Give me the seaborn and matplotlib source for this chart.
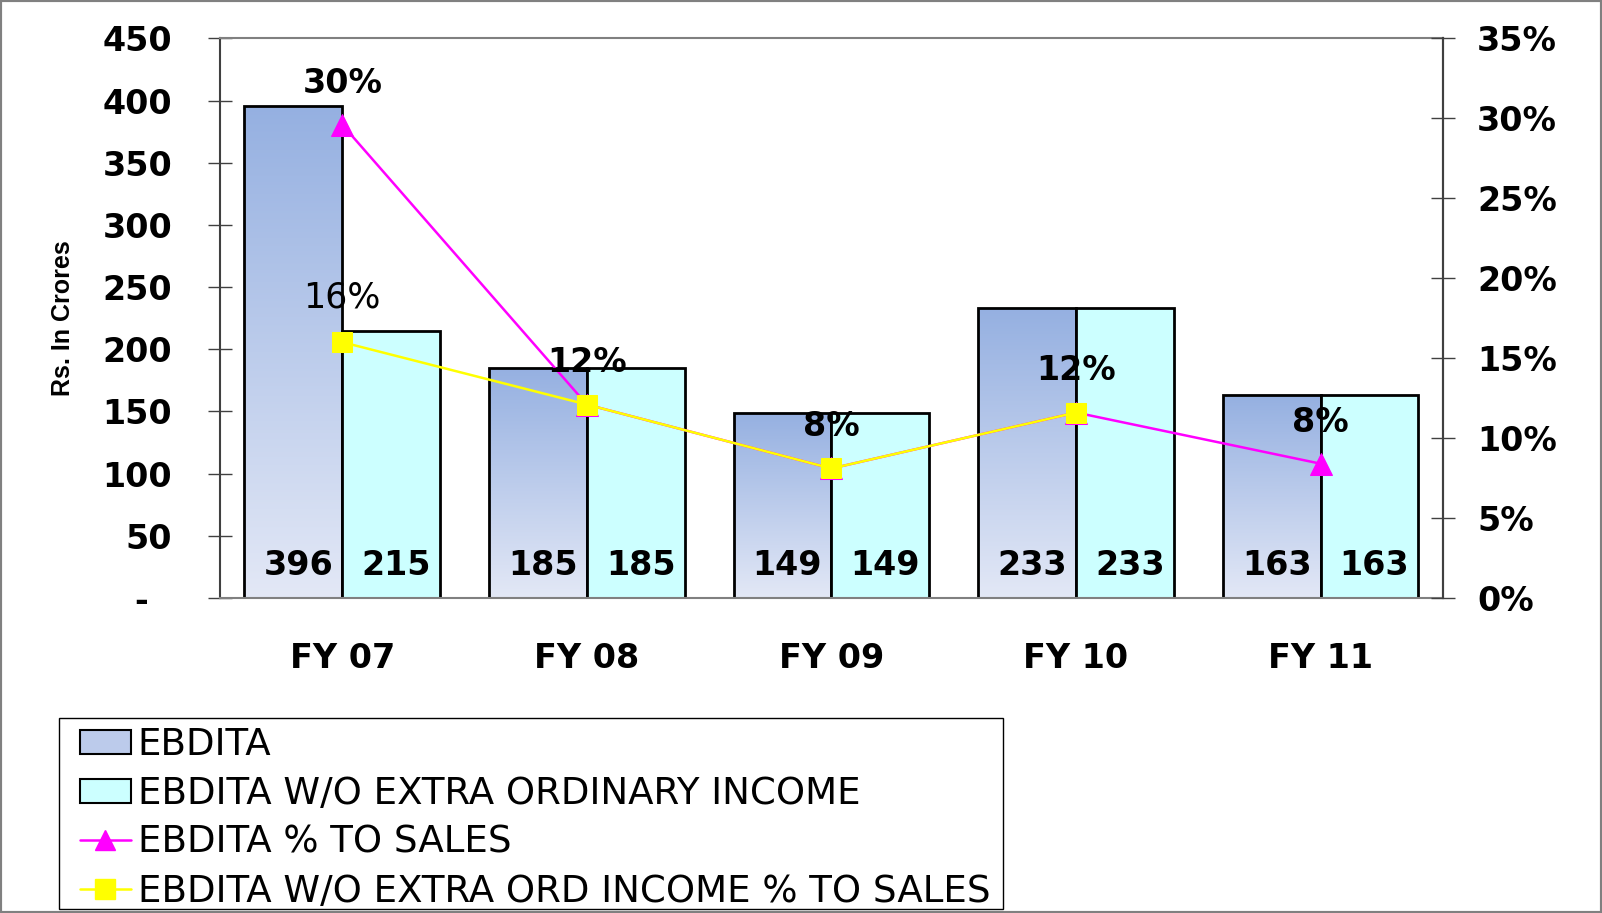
import numpy as np
import pandas as pd
import matplotlib
matplotlib.use("Agg")
import matplotlib.pyplot as plt
import seaborn as sns
from matplotlib.colors import LinearSegmentedColormap
from matplotlib.patches import Patch, Rectangle
from matplotlib.lines import Line2D
from matplotlib.ticker import FuncFormatter, MultipleLocator

# data
years = ["FY 07", "FY 08", "FY 09", "FY 10", "FY 11"]
ebdita = [396, 185, 149, 233, 163]
ebdita_wo = [215, 185, 149, 233, 163]
pct_sales = [29.6, 12.1, 8.1, 11.6, 8.4]
pct_sales_wo = [16.0, 12.1, 8.1, 11.6, np.nan]
pct_labels = ["30%", "12%", "8%", "12%", "8%"]
wo_first_label = "16%"

names = ["EBDITA", "EBDITA W/O EXTRA ORDINARY INCOME",
         "EBDITA % TO SALES", "EBDITA W/O EXTRA ORD INCOME % TO SALES"]

df = pd.DataFrame({
    "year": years * 2,
    "value": ebdita + ebdita_wo,
    "series": [names[0]] * len(years) + [names[1]] * len(years),
})

sns.set_style("white")
plt.rcParams["font.family"] = ["DejaVu Sans"]
plt.rcParams["text.color"] = "black"
plt.rcParams["axes.labelcolor"] = "black"
plt.rcParams["xtick.labelcolor"] = "black"
plt.rcParams["ytick.labelcolor"] = "black"

grad_top = "#95B0E1"
grad_bot = "#E3E8F6"
cyan = "#CCFFFF"
magenta = "#FF00FF"
yellow = "#FFFF00"
dark = "#404040"

fig = plt.figure(figsize=(16.02, 9.13), dpi=100)
ax = fig.add_axes([0.1373, 0.345, 0.7634, 0.613])

sns.barplot(data=df, x="year", y="value", hue="series",
            palette={names[0]: grad_top, names[1]: cyan},
            edgecolor="black", linewidth=2, width=0.8, saturation=1,
            errorbar=None, legend=False, ax=ax)

# vertical gradient on the EBDITA bars
cmap = LinearSegmentedColormap.from_list("g", [grad_top, grad_bot])
grad = np.linspace(1, 0, 256).reshape(-1, 1)
for bar in ax.containers[0]:
    x0, y0 = bar.get_xy()
    w, h = bar.get_width(), bar.get_height()
    im = ax.imshow(grad, extent=[x0, x0 + w, y0, y0 + h], origin="lower",
                   aspect="auto", cmap=cmap, zorder=bar.get_zorder() - 0.1)
    im.set_clip_path(bar)
    bar.set_facecolor("none")

for cont in ax.containers:
    for bar in cont:
        ax.text(bar.get_x() + bar.get_width() / 2 + 0.02, 26, f"{bar.get_height():.0f}",
                ha="center", va="center", fontsize=24, fontweight="bold", zorder=5)

ax.set_xlim(-0.5, len(years) - 0.5)
ax.set_ylim(0, 450)
ax.yaxis.set_major_locator(MultipleLocator(50))
ax.yaxis.set_major_formatter(FuncFormatter(lambda v, p: "-  " if v == 0 else f"{v:.0f}"))
ax.set_xlabel("")
ax.set_ylabel("Rs. In Crores", fontsize=18, fontweight="bold",
              family="Liberation Sans", labelpad=20)
ax.set_xticks(np.arange(-0.5, len(years)), minor=True)
ax.tick_params(axis="x", which="major", length=0, pad=32, labelsize=24)
ax.tick_params(axis="x", which="minor", length=17, direction="inout", color=dark, width=1)
ax.tick_params(axis="y", length=17, direction="inout", color=dark, width=1, pad=26, labelsize=24)
for lab in ax.get_xticklabels() + ax.get_yticklabels():
    lab.set_fontweight("bold")

for side, col in [("left", dark), ("right", dark), ("top", "#808080"), ("bottom", "#808080")]:
    ax.spines[side].set_color(col)
    ax.spines[side].set_linewidth(1.5)
    ax.spines[side].set_visible(True)

# percentage lines on the right axis
ax2 = ax.twinx()
xs = np.arange(len(years))
sns.lineplot(x=xs, y=pct_sales, color=magenta, marker="^", markersize=16,
             markeredgecolor=magenta, linewidth=1.8, ax=ax2, legend=False)
sns.lineplot(x=xs, y=pct_sales_wo, color=yellow, marker="s", markersize=15,
             markeredgecolor=yellow, linewidth=1.8, ax=ax2, legend=False)

for i, (v, t) in enumerate(zip(pct_sales, pct_labels)):
    ax2.text(i, v + 2.6, t, ha="center", va="center", fontsize=24, fontweight="bold")
ax2.text(0, pct_sales_wo[0] + 2.8, wo_first_label, ha="center", va="center", fontsize=25)

ax2.set_xlim(-0.5, len(years) - 0.5)
ax2.set_ylim(0, 35)
ax2.yaxis.set_major_locator(MultipleLocator(5))
ax2.yaxis.set_major_formatter(FuncFormatter(lambda v, p: f"{v:.0f}%"))
ax2.tick_params(axis="y", length=17, direction="inout", color=dark, width=1, pad=16, labelsize=24)
for lab in ax2.get_yticklabels():
    lab.set_fontweight("bold")
for side in ["left", "top", "bottom"]:
    ax2.spines[side].set_visible(False)
ax2.spines["right"].set_color(dark)
ax2.spines["right"].set_linewidth(1.5)

handles = [
    Patch(facecolor="#BCCBEB", edgecolor="black", linewidth=1.5),
    Patch(facecolor=cyan, edgecolor="black", linewidth=1.5),
    Line2D([], [], color=magenta, marker="^", markersize=14, linewidth=1.8),
    Line2D([], [], color=yellow, marker="s", markersize=14, linewidth=1.8),
]
leg = fig.legend(handles, names, loc="upper left", bbox_to_anchor=(80 / 1602, 1 - 726 / 913),
                 fontsize=26.7, frameon=False,
                 handlelength=1.37, handleheight=0.6, handletextpad=0.19, labelspacing=0.32,
                 borderpad=0, borderaxespad=0)

# legend box and outer figure border
fig.patches.append(Rectangle((59 / 1602, 1 - 909 / 913), 944 / 1602, 191 / 913,
                             transform=fig.transFigure, fill=False,
                             edgecolor="black", linewidth=1))
fig.patches.append(Rectangle((0, 0), 1, 1, transform=fig.transFigure, fill=False,
                             edgecolor="#808080", linewidth=3))

fig.savefig("out.png", dpi=100)
